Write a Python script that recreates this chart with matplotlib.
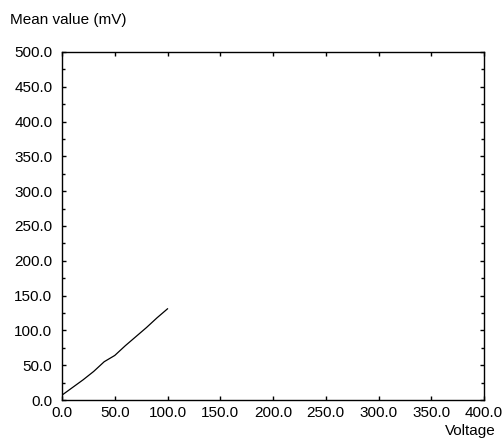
import matplotlib
matplotlib.use("Agg")
import matplotlib.pyplot as plt
from matplotlib.ticker import MultipleLocator, FormatStrFormatter

voltage = [0, 10, 20, 30, 40, 50, 60, 70, 80, 90, 100]
mean_mv = [7, 18, 29, 41, 55, 64, 78, 91, 104, 118, 131]

x_ticks = [0, 50, 100, 150, 200, 250, 300, 350, 400]
y_ticks = [0, 50, 100, 150, 200, 250, 300, 350, 400, 450, 500]

plt.rcParams['font.family'] = ['Liberation Sans', 'DejaVu Sans']
fig = plt.figure(figsize=(5.03, 4.38), dpi=100)
ax = fig.add_axes([62/503, 1-400/438, (484-62)/503, (400-52)/438])
ax.plot(voltage, mean_mv, color='black', linewidth=0.9)
ax.set_xlim(0, 400)
ax.set_ylim(0, 500)
ax.set_xticks(x_ticks)
ax.set_yticks(y_ticks)
ax.yaxis.set_minor_locator(MultipleLocator(25))
ax.xaxis.set_major_formatter(FormatStrFormatter('%.1f'))
ax.yaxis.set_major_formatter(FormatStrFormatter('%.1f'))
ax.tick_params(which='both', direction='in', top=True, right=True, labelsize=11, width=1, colors='black')
ax.tick_params(which='major', length=3)
ax.tick_params(which='minor', length=2.2)
ax.tick_params(axis='y', which='major', pad=7)
ax.tick_params(axis='x', which='major', pad=4)
for s in ax.spines.values():
    s.set_linewidth(1.0)
fig.text(10/503, 1-20/438, 'Mean value (mV)', fontsize=11, ha='left', va='center')
fig.text(496/503, 1-431/438, 'Voltage', fontsize=11, ha='right', va='center')
fig.savefig('out.png', dpi=100)
